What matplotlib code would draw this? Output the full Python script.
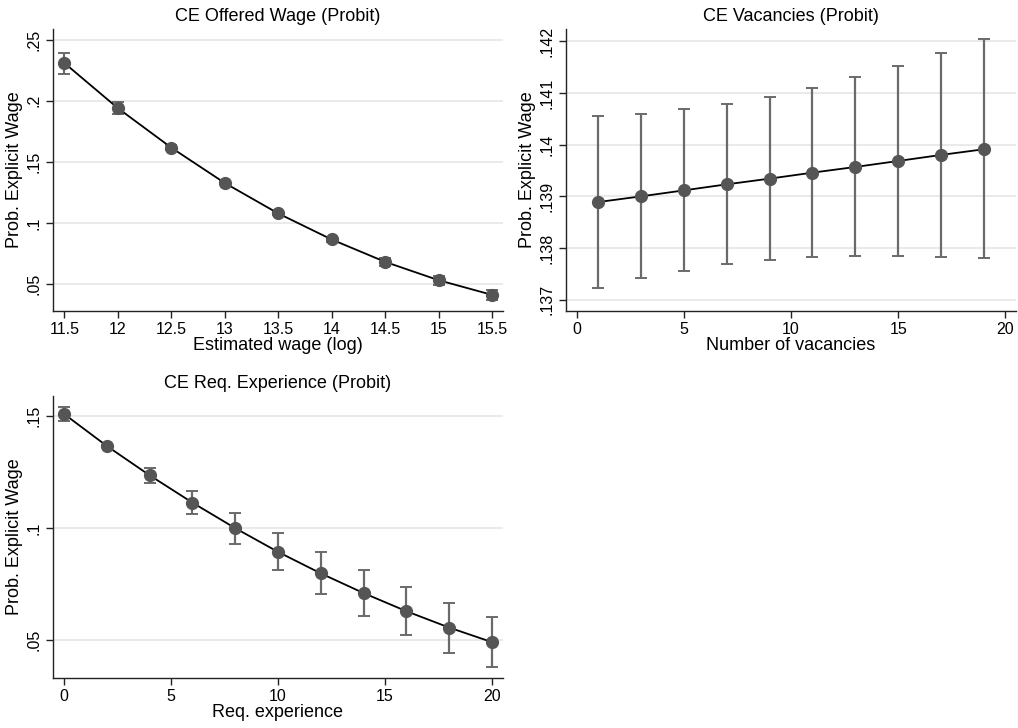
import numpy as np
from matplotlib import pyplot as plt

plt.rcParams['font.family'] = ['Liberation Sans', 'DejaVu Sans']

# CE offered wage
wage_x = [11.5, 12, 12.5, 13, 13.5, 14, 14.5, 15, 15.5]
wage_y = [0.2309, 0.1940, 0.1617, 0.1328, 0.1079, 0.0866, 0.0683, 0.0533, 0.0413]
wage_lo = [0.2220, 0.1890, 0.1598, 0.1316, 0.1064, 0.0846, 0.0653, 0.0495, 0.0375]
wage_hi = [0.2390, 0.1990, 0.1636, 0.1340, 0.1094, 0.0886, 0.0713, 0.0571, 0.0451]

# CE vacancies
vac_x = [1, 3, 5, 7, 9, 11, 13, 15, 17, 19]
vac_y = [0.138889, 0.138999, 0.139115, 0.139232, 0.139342, 0.139458, 0.139568, 0.139684, 0.139801, 0.139911]
vac_lo = [0.137233, 0.137414, 0.137563, 0.137686, 0.137770, 0.137821, 0.137847, 0.137847, 0.137834, 0.137802]
vac_hi = [0.140558, 0.140603, 0.140687, 0.140784, 0.140926, 0.141094, 0.141301, 0.141521, 0.141774, 0.142039]

# CE required experience
exp_x = [0, 2, 4, 6, 8, 10, 12, 14, 16, 18, 20]
exp_y = [0.1509, 0.1366, 0.1235, 0.1113, 0.0999, 0.0893, 0.0797, 0.0709, 0.0628, 0.0555, 0.0490]
exp_lo = [0.1479, 0.1361, 0.1202, 0.1061, 0.0929, 0.0810, 0.0704, 0.0607, 0.0521, 0.0443, 0.0378]
exp_hi = [0.1539, 0.1371, 0.1267, 0.1165, 0.1068, 0.0977, 0.0891, 0.0810, 0.0737, 0.0667, 0.0601]

panels = [
    dict(x=wage_x, y=wage_y, lo=wage_lo, hi=wage_hi,
         title='CE Offered Wage (Probit)', xlabel='Estimated wage (log)',
         xticks=[11.5, 12, 12.5, 13, 13.5, 14, 14.5, 15, 15.5],
         xticklabels=['11.5', '12', '12.5', '13', '13.5', '14', '14.5', '15', '15.5'],
         yticks=[0.05, 0.1, 0.15, 0.2, 0.25],
         yticklabels=['.05', '.1', '.15', '.2', '.25'],
         xlim=(11.394, 15.603), ylim=(0.0281, 0.2587),
         rect=[53/1018, 1-311/728, 450/1018, 282/728]),
    dict(x=vac_x, y=vac_y, lo=vac_lo, hi=vac_hi,
         title='CE Vacancies (Probit)', xlabel='Number of vacancies',
         xticks=[0, 5, 10, 15, 20],
         xticklabels=['0', '5', '10', '15', '20'],
         yticks=[0.137, 0.138, 0.139, 0.140, 0.141, 0.142],
         yticklabels=['.137', '.138', '.139', '.14', '.141', '.142'],
         xlim=(-0.498, 20.5), ylim=(0.13678, 0.142239),
         rect=[566/1018, 1-311/728, 450/1018, 282/728]),
    dict(x=exp_x, y=exp_y, lo=exp_lo, hi=exp_hi,
         title='CE Req. Experience (Probit)', xlabel='Req. experience',
         xticks=[0, 5, 10, 15, 20],
         xticklabels=['0', '5', '10', '15', '20'],
         yticks=[0.05, 0.1, 0.15],
         yticklabels=['.05', '.1', '.15'],
         xlim=(-0.513, 20.51), ylim=(0.0330, 0.1589),
         rect=[53/1018, 1-678/728, 450/1018, 282/728]),
]

fig = plt.figure(figsize=(10.18, 7.28), dpi=100)

for p in panels:
    ax = fig.add_axes(p['rect'])
    x = np.array(p['x'])
    y = np.array(p['y'])
    err = [y - np.array(p['lo']), np.array(p['hi']) - y]
    ax.errorbar(x, y, yerr=err, fmt='none', ecolor='#6a6a6a', elinewidth=1.6,
                capsize=4, capthick=1.4, zorder=2)
    ax.plot(x, y, color='black', lw=1.3, zorder=3)
    ax.plot(x, y, 'o', color='#555555', ms=8.5, zorder=4)
    ax.set_xlim(*p['xlim'])
    ax.set_ylim(*p['ylim'])
    ax.set_xticks(p['xticks'])
    ax.set_xticklabels(p['xticklabels'])
    ax.set_yticks(p['yticks'])
    ax.set_yticklabels(p['yticklabels'], rotation=90, va='center')
    ax.grid(axis='y', color='#e6e6e6', lw=1.2)
    ax.set_axisbelow(True)
    for s in ['top', 'right']:
        ax.spines[s].set_visible(False)
    for s in ['left', 'bottom']:
        ax.spines[s].set_color('#222222')
        ax.spines[s].set_linewidth(1.0)
    ax.tick_params(labelsize=11.5, length=5, width=1.0, color='#222222', pad=3)
    ax.set_title(p['title'], fontsize=13, pad=6)
    ax.set_xlabel(p['xlabel'], fontsize=13, labelpad=0)
    ax.set_ylabel('Prob. Explicit Wage', fontsize=13, labelpad=3)

fig.savefig('out.png', dpi=100)
